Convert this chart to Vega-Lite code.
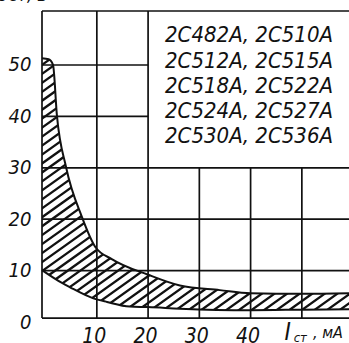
{
  "$schema": "https://vega.github.io/schema/vega-lite/v6.json",
  "width": 307,
  "height": 311,
  "autosize": {"type": "none"},
  "padding": {"left": 42, "top": 11, "right": 0, "bottom": 21},
  "background": "white",
  "config": {"view": {"stroke": null}},
  "datasets": {
    "upper": [
      {"x": -0.7, "y": 51.3}, {"x": 0.6, "y": 51.1}, {"x": 1.45, "y": 50}, {"x": 2.2, "y": 40.3},
      {"x": 4.0, "y": 30.1}, {"x": 7.1, "y": 20.4}, {"x": 9.7, "y": 14.6}, {"x": 13, "y": 12.2},
      {"x": 20, "y": 9.2}, {"x": 26.2, "y": 7.1}, {"x": 34, "y": 6.2}, {"x": 40, "y": 5.6},
      {"x": 50, "y": 5.5}, {"x": 59.2, "y": 5.6}
    ],
    "lower": [
      {"x": -0.7, "y": 10.1}, {"x": 3.2, "y": 7.6}, {"x": 4.7, "y": 6.8}, {"x": 9.2, "y": 4.65},
      {"x": 12, "y": 3.9}, {"x": 16.4, "y": 3.0}, {"x": 20, "y": 2.9}, {"x": 26.2, "y": 2.6},
      {"x": 40, "y": 2.3}, {"x": 50, "y": 2.4}, {"x": 59.2, "y": 2.5}
    ],
    "hatch": [{"x": -15, "y": 75, "x2": 60, "y2": -30}],
    "vgrid": [
      {"x": 10, "y": 0.76, "y2": 60.5}, {"x": 20, "y": 0.76, "y2": 60.5},
      {"x": 30, "y": 0.76, "y2": 30}, {"x": 40, "y": 0.76, "y2": 30}, {"x": 50, "y": 0.76, "y2": 30},
      {"x": -0.7, "y": 0.76, "y2": 60.5}
    ],
    "hgrid": [
      {"y": 10, "x": -0.7, "x2": 59.2}, {"y": 20, "x": -0.7, "x2": 59.2}, {"y": 30, "x": -0.7, "x2": 59.2},
      {"y": 40, "x": -0.7, "x2": 20}, {"y": 50, "x": -0.7, "x2": 20},
      {"y": 60.5, "x": -0.7, "x2": 59.2}, {"y": 0.76, "x": -0.7, "x2": 59.2}
    ],
    "types": [
      {"x": 23.3, "y": 54.5, "t": "2С482А, 2С510А"},
      {"x": 23.3, "y": 49.4, "t": "2С512А, 2С515А"},
      {"x": 23.3, "y": 44.5, "t": "2С518А, 2С522А"},
      {"x": 23.3, "y": 39.7, "t": "2С524А, 2С527А"},
      {"x": 23.3, "y": 34.8, "t": "2С530А, 2С536А"}
    ],
    "tI": [{"x": 46.6, "y": -3.5, "t": "I"}],
    "tsub": [{"x": 48.4, "y": -3.9, "t": "ст"}],
    "tunit": [{"x": 52.2, "y": -3.1, "t": ", мА"}],
    "ytitle": [{"x": -4.5, "y": 62.4, "t": "Uст, В"}]
  },
  "layer": [
    {
      "data": {"name": "hatch"},
      "mark": {"type": "rule", "clip": true, "color": "#111", "strokeWidth": 560, "strokeDash": [2.3, 5], "strokeCap": "butt"},
      "encoding": {
        "x": {"field": "x", "type": "quantitative", "scale": {"domain": [-0.7, 59.2], "nice": false, "zero": false},
          "axis": {"values": [10, 20, 30, 40], "domain": false, "ticks": false, "grid": false, "title": null,
            "labelFont": "DejaVu Sans Condensed", "labelFontStyle": "italic", "labelFontSize": 21, "labelColor": "#111",
            "labelPadding": 3, "labelOffset": -3, "zindex": 1}},
        "y": {"field": "y", "type": "quantitative", "scale": {"domain": [0, 60.5], "nice": false, "zero": false},
          "axis": {"values": [0, 10, 20, 30, 40, 50], "domain": false, "ticks": false, "grid": false, "title": null,
            "labelFont": "DejaVu Sans Condensed", "labelFontStyle": "italic", "labelFontSize": 20, "labelColor": "#111",
            "labelPadding": 11, "zindex": 1}},
        "x2": {"field": "x2"},
        "y2": {"field": "y2"}
      }
    },
    {
      "data": {"name": "upper"},
      "mark": {"type": "area", "color": "white", "interpolate": "monotone", "opacity": 1},
      "encoding": {
        "x": {"field": "x", "type": "quantitative"},
        "y": {"field": "y", "type": "quantitative"},
        "y2": {"datum": 60.5}
      }
    },
    {
      "data": {"name": "lower"},
      "mark": {"type": "area", "color": "white", "interpolate": "monotone", "opacity": 1},
      "encoding": {
        "x": {"field": "x", "type": "quantitative"},
        "y": {"field": "y", "type": "quantitative"},
        "y2": {"datum": 0}
      }
    },
    {
      "data": {"name": "upper"},
      "mark": {"type": "line", "color": "#111", "strokeWidth": 2, "interpolate": "monotone"},
      "encoding": {
        "x": {"field": "x", "type": "quantitative"},
        "y": {"field": "y", "type": "quantitative"}
      }
    },
    {
      "data": {"name": "lower"},
      "mark": {"type": "line", "color": "#111", "strokeWidth": 2, "interpolate": "monotone"},
      "encoding": {
        "x": {"field": "x", "type": "quantitative"},
        "y": {"field": "y", "type": "quantitative"}
      }
    },
    {
      "data": {"name": "vgrid"},
      "mark": {"type": "rule", "color": "#111", "strokeWidth": 1.7},
      "encoding": {
        "x": {"field": "x", "type": "quantitative"},
        "y": {"field": "y", "type": "quantitative"},
        "y2": {"field": "y2"}
      }
    },
    {
      "data": {"name": "hgrid"},
      "mark": {"type": "rule", "color": "#111", "strokeWidth": 1.7},
      "encoding": {
        "y": {"field": "y", "type": "quantitative"},
        "x": {"field": "x", "type": "quantitative"},
        "x2": {"field": "x2"}
      }
    },
    {
      "data": {"name": "types"},
      "mark": {"type": "text", "align": "left", "baseline": "alphabetic", "font": "DejaVu Sans Condensed", "fontStyle": "italic", "fontSize": 22, "color": "#111"},
      "encoding": {
        "x": {"field": "x", "type": "quantitative"},
        "y": {"field": "y", "type": "quantitative"},
        "text": {"field": "t"}
      }
    },
    {
      "data": {"name": "tI"},
      "mark": {"type": "text", "align": "left", "baseline": "alphabetic", "font": "DejaVu Sans Condensed", "fontStyle": "italic", "fontSize": 24, "color": "#111"},
      "encoding": {
        "x": {"field": "x", "type": "quantitative"},
        "y": {"field": "y", "type": "quantitative"},
        "text": {"field": "t"}
      }
    },
    {
      "data": {"name": "tsub"},
      "mark": {"type": "text", "align": "left", "baseline": "alphabetic", "font": "DejaVu Sans Condensed", "fontStyle": "italic", "fontSize": 13, "color": "#111"},
      "encoding": {
        "x": {"field": "x", "type": "quantitative"},
        "y": {"field": "y", "type": "quantitative"},
        "text": {"field": "t"}
      }
    },
    {
      "data": {"name": "tunit"},
      "mark": {"type": "text", "align": "left", "baseline": "alphabetic", "font": "DejaVu Sans Condensed", "fontStyle": "italic", "fontSize": 16, "color": "#111"},
      "encoding": {
        "x": {"field": "x", "type": "quantitative"},
        "y": {"field": "y", "type": "quantitative"},
        "text": {"field": "t"}
      }
    },
    {
      "data": {"name": "ytitle"},
      "mark": {"type": "text", "align": "center", "baseline": "alphabetic", "font": "DejaVu Sans Condensed", "fontStyle": "italic", "fontSize": 18, "color": "#111"},
      "encoding": {
        "x": {"field": "x", "type": "quantitative"},
        "y": {"field": "y", "type": "quantitative"},
        "text": {"field": "t"}
      }
    }
  ]
}
